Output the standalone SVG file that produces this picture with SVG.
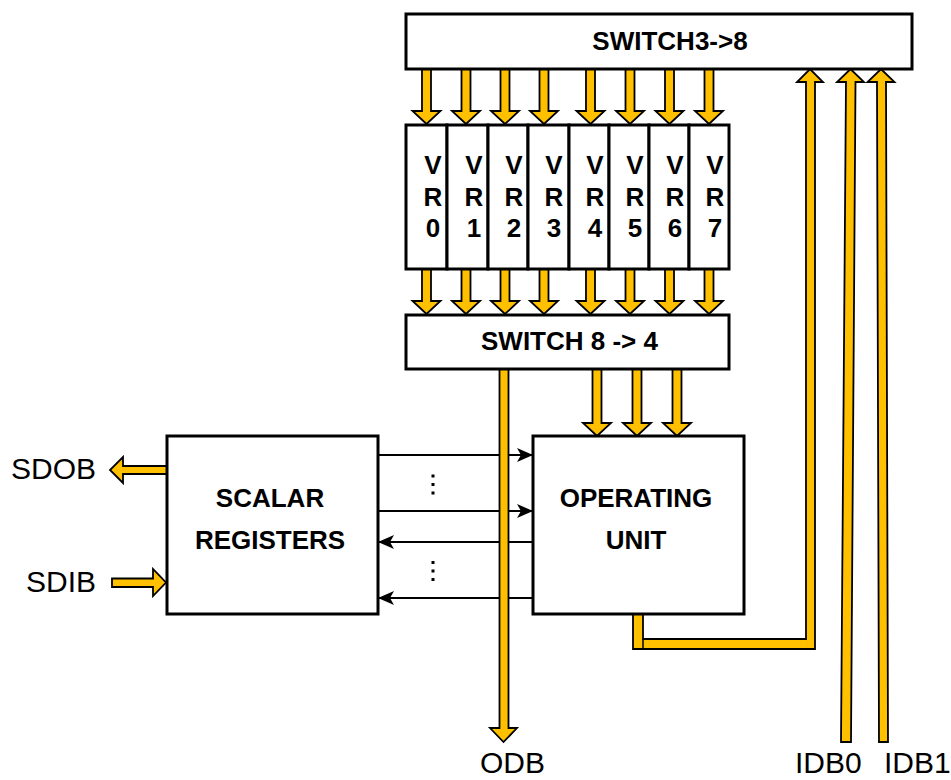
<svg xmlns="http://www.w3.org/2000/svg" width="951" height="780" viewBox="0 0 951 780">
<style>
.box{fill:#fff;stroke:#000;stroke-width:3}
.bus{fill:#FFC000;stroke:#000;stroke-width:1.8;stroke-linejoin:miter}
.b{font-family:"Liberation Sans",Arial,sans-serif;font-weight:bold;font-size:26px;fill:#000}
.vr{font-family:"Liberation Sans",Arial,sans-serif;font-weight:bold;font-size:26px;fill:#000;text-anchor:middle}
.lbl{font-family:"Liberation Sans",Arial,sans-serif;font-size:30px;fill:#000}
.wire{stroke:#000;stroke-width:1.8;fill:none}
</style>
<defs>
<marker id="ah" viewBox="0 0 16 14" refX="16" refY="7" markerWidth="16" markerHeight="14" markerUnits="userSpaceOnUse" orient="auto">
<path d="M0,0 L16,7 L0,14 L4,7 Z" fill="#000"/>
</marker>
</defs>

<g id="connectors">
<line class="wire" x1="378" y1="455" x2="533" y2="455" marker-end="url(#ah)"/>
<line class="wire" x1="378" y1="511" x2="533" y2="511" marker-end="url(#ah)"/>
<line class="wire" x1="533" y1="542" x2="378" y2="542" marker-end="url(#ah)"/>
<line class="wire" x1="533" y1="598" x2="378" y2="598" marker-end="url(#ah)"/>
<g fill="#000">
<rect x="431.5" y="474.5" width="3" height="3"/><rect x="431.5" y="483" width="3" height="3"/><rect x="431.5" y="491.5" width="3" height="3"/>
<rect x="431.5" y="561" width="3" height="3"/><rect x="431.5" y="569.5" width="3" height="3"/><rect x="431.5" y="578" width="3" height="3"/>
</g>

<g id="top-arrows">
<polygon class="bus" points="422,69 431,69 431,111 440.5,111 426.5,124 412.5,111 422,111"/>
<polygon class="bus" points="461.5,69 470.5,69 470.5,111 480,111 466,124 452,111 461.5,111"/>
<polygon class="bus" points="500.5,69 509.5,69 509.5,111 519,111 505,124 491,111 500.5,111"/>
<polygon class="bus" points="539.5,69 548.5,69 548.5,111 558,111 544,124 530,111 539.5,111"/>
<polygon class="bus" points="586,69 595,69 595,111 604.5,111 590.5,124 576.5,111 586,111"/>
<polygon class="bus" points="625.5,69 634.5,69 634.5,111 644,111 630,124 616,111 625.5,111"/>
<polygon class="bus" points="665,69 674,69 674,111 683.5,111 669.5,124 655.5,111 665,111"/>
<polygon class="bus" points="704.5,69 713.5,69 713.5,111 723,111 709,124 695,111 704.5,111"/>
</g>
<g id="mid-arrows">
<polygon class="bus" points="422,269 431,269 431,301 440.5,301 426.5,314 412.5,301 422,301"/>
<polygon class="bus" points="461.5,269 470.5,269 470.5,301 480,301 466,314 452,301 461.5,301"/>
<polygon class="bus" points="500.5,269 509.5,269 509.5,301 519,301 505,314 491,301 500.5,301"/>
<polygon class="bus" points="539.5,269 548.5,269 548.5,301 558,301 544,314 530,301 539.5,301"/>
<polygon class="bus" points="586,269 595,269 595,301 604.5,301 590.5,314 576.5,301 586,301"/>
<polygon class="bus" points="625.5,269 634.5,269 634.5,301 644,301 630,314 616,301 625.5,301"/>
<polygon class="bus" points="665,269 674,269 674,301 683.5,301 669.5,314 655.5,301 665,301"/>
<polygon class="bus" points="704.5,269 713.5,269 713.5,301 723,301 709,314 695,301 704.5,301"/>
</g>
<polygon class="bus" points="592.5,369 601.5,369 601.5,423 611,423 597,436 583,423 592.5,423"/>
<polygon class="bus" points="632.5,369 641.5,369 641.5,423 651,423 637,436 623,423 632.5,423"/>
<polygon class="bus" points="672.5,369 681.5,369 681.5,423 691,423 677,436 663,423 672.5,423"/>
<polygon class="bus" points="499.5,369 508.5,369 508.5,728 517,728 503.5,742 490,728 499.5,728"/>
<polygon class="bus" points="633,614 643,614 643,639 806,639 806,82 797,82 810,69 823,82 815,82 815,649 633,649"/>
<line x1="643" y1="639" x2="643" y2="649" stroke="#000" stroke-width="1.5"/>
<polygon class="bus" points="841,742 851,742 855.5,82 864,82 850.5,69 837,82 846,82"/>
<polygon class="bus" points="879,742 888,742 886,82 894.5,82 881,69 867.5,82 877,82"/>
<polygon class="bus" points="167,466 123,466 123,457 110,470 123,483 123,474 167,474"/>
<polygon class="bus" points="112,578.5 153,578.5 153,569 166,582.5 153,596 153,587 112,587"/>
</g>

<g id="switch3to8">
<rect class="box" x="406" y="14" width="506" height="55"/>
<text class="b" x="670" y="50" text-anchor="middle" font-size="25">SWITCH3-&gt;8</text>
</g>

<g id="vr-registers">
<rect class="box" x="406" y="125" width="41" height="144"/>
<rect class="box" x="447" y="125" width="41" height="144"/>
<rect class="box" x="488" y="125" width="40" height="144"/>
<rect class="box" x="528" y="125" width="41" height="144"/>
<rect class="box" x="569" y="125" width="40" height="144"/>
<rect class="box" x="609" y="125" width="40" height="144"/>
<rect class="box" x="649" y="125" width="40" height="144"/>
<rect class="box" x="689" y="125" width="40" height="144"/>
<text class="vr" x="433" y="174">V<tspan x="433" y="206">R</tspan><tspan x="433" y="237">0</tspan></text>
<text class="vr" x="474" y="174">V<tspan x="474" y="206">R</tspan><tspan x="474" y="237">1</tspan></text>
<text class="vr" x="514" y="174">V<tspan x="514" y="206">R</tspan><tspan x="514" y="237">2</tspan></text>
<text class="vr" x="554" y="174">V<tspan x="554" y="206">R</tspan><tspan x="554" y="237">3</tspan></text>
<text class="vr" x="595" y="174">V<tspan x="595" y="206">R</tspan><tspan x="595" y="237">4</tspan></text>
<text class="vr" x="635" y="174">V<tspan x="635" y="206">R</tspan><tspan x="635" y="237">5</tspan></text>
<text class="vr" x="675" y="174">V<tspan x="675" y="206">R</tspan><tspan x="675" y="237">6</tspan></text>
<text class="vr" x="715" y="174">V<tspan x="715" y="206">R</tspan><tspan x="715" y="237">7</tspan></text>
</g>

<g id="switch8to4">
<rect class="box" x="406" y="315" width="323" height="54"/>
<text class="b" x="569.5" y="350" text-anchor="middle">SWITCH 8 -&gt; 4</text>
</g>

<g id="scalar-registers">
<rect class="box" x="167" y="436" width="211" height="178"/>
<text class="b" x="270" y="507" text-anchor="middle">SCALAR</text>
<text class="b" x="270" y="549" text-anchor="middle">REGISTERS</text>
</g>

<g id="operating-unit">
<rect class="box" x="533" y="436" width="211" height="178"/>
<text class="b" x="636" y="507" text-anchor="middle">OPERATING</text>
<text class="b" x="636" y="549" text-anchor="middle">UNIT</text>
</g>

<g id="labels">
<text class="lbl" x="11" y="479">SDOB</text>
<text class="lbl" x="26" y="592">SDIB</text>
<text class="lbl" x="480" y="773">ODB</text>
<text class="lbl" x="795" y="773">IDB0</text>
<text class="lbl" x="884" y="773" font-size="29">IDB1</text>
</g>
</svg>
